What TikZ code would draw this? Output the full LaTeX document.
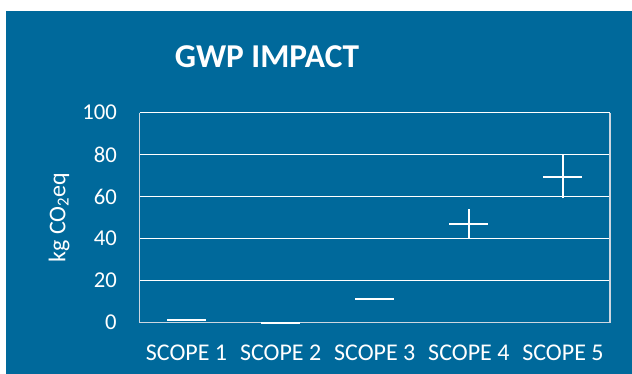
\documentclass[tikz,border=0pt]{standalone}
\usepackage{fontspec}
\setmainfont{Carlito}
\usetikzlibrary{positioning}
\definecolor{panelblue}{RGB}{0,105,155}
\definecolor{axisgray}{RGB}{205,215,225}

\begin{document}
\begin{tikzpicture}[x=0.75pt, y=0.75pt,
    gridline/.style={draw=white, line width=1.1pt},
    axisline/.style={draw=axisgray, line width=1.1pt},
    ticklabel/.style={font=\fontsize{17}{17}\selectfont, text=white, anchor=east, inner sep=0pt},
    catlabel/.style={font=\fontsize{18}{18}\selectfont, text=white, inner sep=0pt},
    errbar/.style={draw=white, line width=1.5pt}]
    \useasboundingbox (0,0) rectangle (632,374);
    % Background panel
    \fill[white] (0,0) rectangle (632,374);
    \fill[panelblue] (6,0) rectangle (632,363);
    % Title
    \node[font=\bfseries\fontsize{25}{25}\selectfont, text=white, inner sep=0pt] (title) at (267,317) {GWP IMPACT};
    % Axis title
    \node[font=\fontsize{18}{18}\selectfont, text=white, rotate=90, inner sep=0pt] (ytitle) at (59,156.5) {kg CO\textsubscript{2}eq};
    % Plot area: x in px, y in kg
    \begin{scope}[shift={(139.5,51.3)}, y=1.575pt]
        % Gridlines and tick labels
        \foreach \v in {20,40,...,100}
            \draw[gridline] (0,\v) -- (470.5,\v);
        \foreach \v in {0,20,...,100}
            \node[ticklabel] (tick\v) at (-22.5,\v) {\v};
        \draw[axisline] (0,100) -- (0,0) -- (470.5,0) -- (470.5,100);
        % Categories
        \foreach \i in {1,...,5}
            \node[catlabel] (scope\i) at ({47.05+94.1*(\i-1)},-14.4) {SCOPE \i};
        % Values with ranges
        \foreach \i/\val/\lo/\hi in {1/1.1/1.1/1.1, 2/0/0/0, 3/11.1/11.1/11.1, 4/47.1/40.5/54, 5/69.2/59.2/80} {
            \coordinate (val\i) at ({47.05+94.1*(\i-1)},\val);
            \draw[errbar] ([xshift=-14.6pt]val\i) -- ([xshift=14.6pt]val\i);
            \draw[errbar] ({47.05+94.1*(\i-1)},\lo) -- ({47.05+94.1*(\i-1)},\hi);
        }
    \end{scope}
\end{tikzpicture}
\end{document}
